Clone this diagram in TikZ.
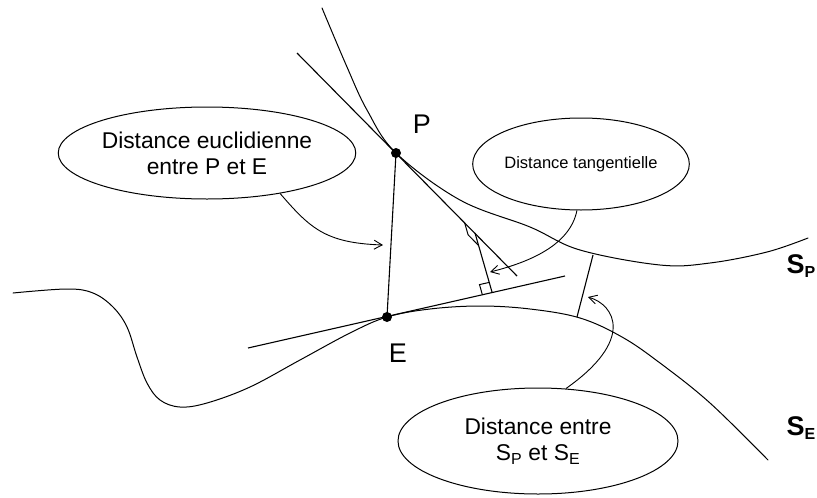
\documentclass[tikz,border=0pt]{standalone}
\usepackage{fontspec}
\setmainfont{Liberation Sans}
\usetikzlibrary{shapes.geometric,arrows.meta,calc}
\begin{document}
\begin{tikzpicture}[x=1pt,y=-1pt,
  curve/.style={line width=1pt,line cap=round},
  seg/.style={line width=1.1pt},
  bubble/.style={draw,ellipse,line width=1pt,inner sep=0pt,align=center,font=\fontsize{22.8}{26}\selectfont},
  pointer/.style={line width=0.9pt,-{Straight Barb[length=8pt,width=9pt,line width=0.9pt]}},
  dot/.style={circle,fill,inner sep=0pt,minimum size=10pt},
  lab/.style={font=\fontsize{27}{30}\selectfont},
  surf/.style={font=\fontsize{27}{30}\selectfont\bfseries}]
\useasboundingbox (0,0) rectangle (817,498);
% surfaces
\draw[curve] plot[smooth,tension=0.6] coordinates {(322,8) (347,67) (367,110) (396,153) (460,200) (530,227) (580,250) (660,265) (710,263) (767,252) (808,238)};
\draw[curve] plot[smooth,tension=0.6] coordinates {(13,293) (67,289) (93,293) (113,307) (127,327) (137,357) (147,383) (160,400) (180,407) (207,403) (250,387) (300,360) (350,333) (387,317) (430,309) (480,306) (530,309) (580,318) (622,337) (660,363) (710,403) (768,460)};
% points
\node[dot] (P) at (396,153) {};
\node[dot] (E) at (387,317) {};
\node[lab] (lP) at (422,124) {P};
\node[lab] (lE) at (398,353) {E};
% tangents
\coordinate (Pa) at (297,53);
\coordinate (Pb) at (517,276);
\coordinate (Ea) at (248,348);
\coordinate (Eb) at (565,276);
\draw[seg] (Pa) -- (Pb);
\draw[seg] (Ea) -- (Eb);
\draw[seg] (P.center) -- (E.center);
% tangential distance
\coordinate (T) at (475,233);
\coordinate (F) at (492,292);
\draw[seg] (T) -- (F);
\coordinate (m1) at (482.2,294.2);
\coordinate (m2) at (479.5,284.6);
\coordinate (m3) at (489.2,282.4);
\draw[line width=1pt] (m1) -- (m2) -- (m3);
\coordinate (n1) at (464.5,222.3);
\coordinate (n2) at (468.1,234.8);
\coordinate (n3) at (478.6,245.5);
\draw[line width=1pt] (n1) -- (n2) -- (n3);
% distance between surfaces
\coordinate (G1) at (577,317);
\coordinate (G2) at (593,255);
\draw[seg] (G1) -- (G2);
% labels
\node[bubble,minimum width=168pt,minimum height=92pt,font=\fontsize{16.5}{20}\selectfont] (e2) at (581,164) {Distance tangentielle};
\node[bubble,minimum width=292pt,minimum height=92pt] (e1) at (207,153) {Distance euclidienne\\entre P et E};
\node[bubble,minimum width=280pt,minimum height=106pt] (e3) at (538,441) {Distance entre\\S\textsubscript{P} et S\textsubscript{E}};
\node[surf,anchor=west] (SP) at (783,266) {S\textsubscript{\fontsize{16}{18}\selectfont P}};
\node[surf,anchor=west] (SE) at (783,428) {S\textsubscript{\fontsize{16}{18}\selectfont E}};
% pointers
\coordinate (a1) at (383,245);
\coordinate (a2) at (490,272);
\coordinate (a3) at (588,297);
\draw[pointer] (e1.-29) .. controls (310,228) and (325,243) .. (a1);
\draw[pointer] (e2.-95) .. controls (570,245) and (530,262) .. (a2);
\draw[pointer] (e3.62) .. controls (635,340) and (615,305) .. (a3);
\end{tikzpicture}
\end{document}
